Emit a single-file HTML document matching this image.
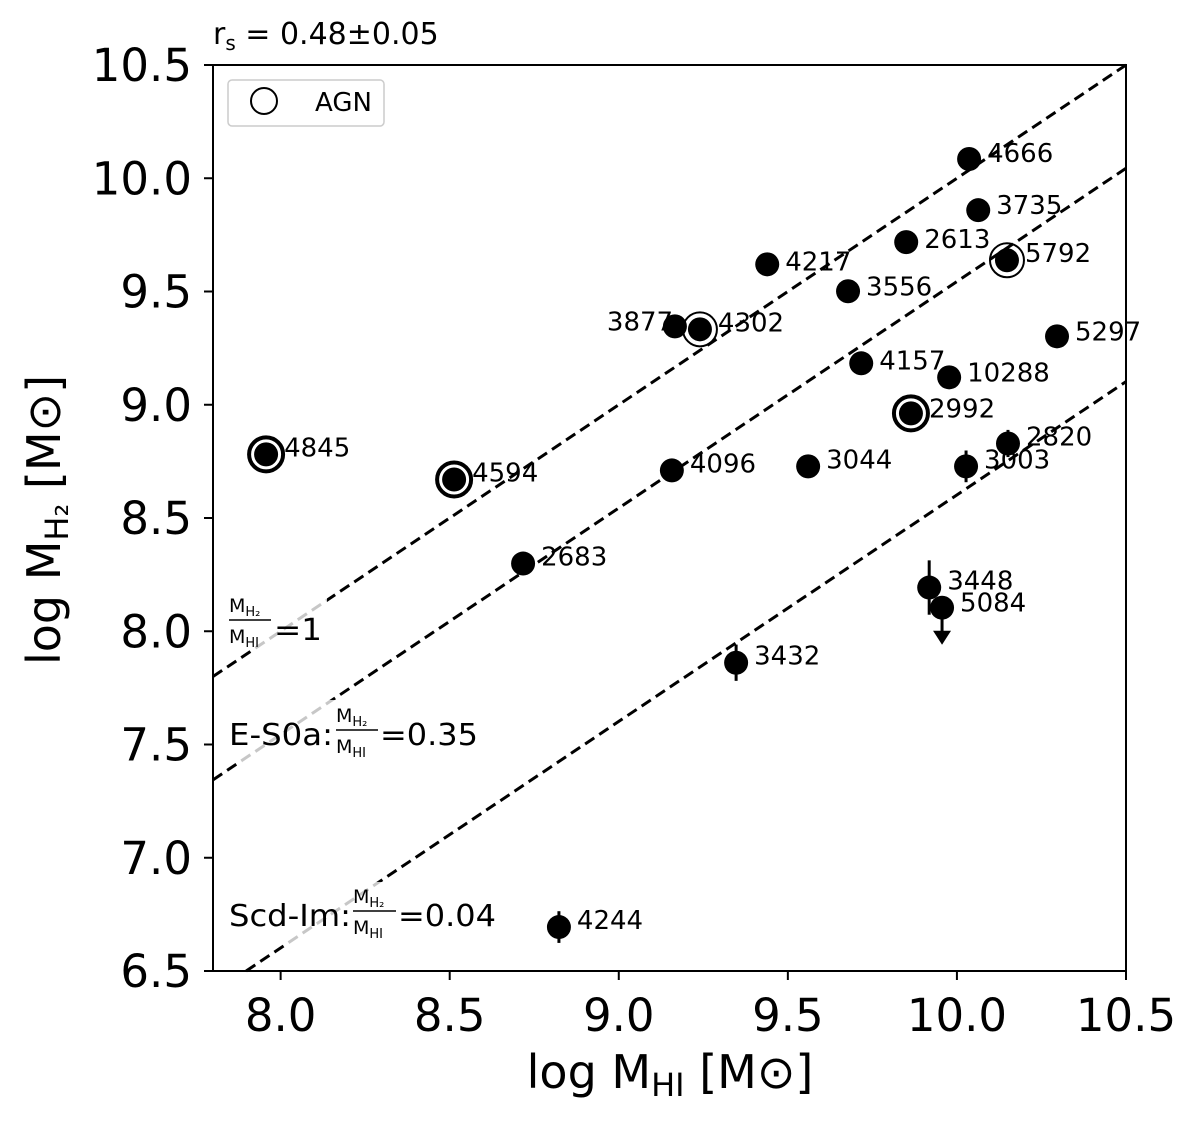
<!DOCTYPE html>
<html><head><meta charset="utf-8"><style>
body{margin:0;background:#fff}
svg text{font-family:"DejaVu Sans","Liberation Sans",sans-serif;fill:#000}
</style></head><body>
<svg id="chart" width="1200" height="1118" xmlns="http://www.w3.org/2000/svg">
<g id="lines"></g>
<g id="labelboxes">
  <rect x="215" y="588" width="112" height="62" fill="#fff" opacity="0.78"/>
  <rect x="215" y="700" width="268" height="62" fill="#fff" opacity="0.78"/>
  <rect x="215" y="882" width="285" height="62" fill="#fff" opacity="0.78"/>
  <text x="229" y="612" font-size="19">M<tspan font-size="13" dy="4">H₂</tspan></text>
  <line x1="229" y1="620" x2="271" y2="620" stroke="#000" stroke-width="1.5"/>
  <text x="229" y="643" font-size="19">M<tspan font-size="13" dy="4">HI</tspan></text>
  <text x="274" y="640" font-size="30" textLength="48" lengthAdjust="spacingAndGlyphs">=1</text>
  <text x="229" y="745" font-size="30" textLength="104" lengthAdjust="spacingAndGlyphs">E-S0a:</text>
  <text x="336" y="722" font-size="19">M<tspan font-size="13" dy="4">H₂</tspan></text>
  <line x1="336" y1="730" x2="378" y2="730" stroke="#000" stroke-width="1.5"/>
  <text x="336" y="753" font-size="19">M<tspan font-size="13" dy="4">HI</tspan></text>
  <text x="380" y="745" font-size="30" textLength="98" lengthAdjust="spacingAndGlyphs">=0.35</text>
  <text x="229" y="926" font-size="30" textLength="122" lengthAdjust="spacingAndGlyphs">Scd-Im:</text>
  <text x="353" y="903" font-size="19">M<tspan font-size="13" dy="4">H₂</tspan></text>
  <line x1="353" y1="911" x2="396" y2="911" stroke="#000" stroke-width="1.5"/>
  <text x="353" y="934" font-size="19">M<tspan font-size="13" dy="4">HI</tspan></text>
  <text x="398" y="926" font-size="30" textLength="98" lengthAdjust="spacingAndGlyphs">=0.04</text>
</g>
<g id="marks"></g>
<g id="axes"></g>
<rect x="228" y="80" width="156" height="46" rx="4" fill="#fff" stroke="#ccc" stroke-width="1.5"/>
<circle cx="264" cy="101" r="13" fill="none" stroke="#000" stroke-width="2"/>
<text x="315" y="111" font-size="26">AGN</text>
<text x="213" y="44" font-size="30">r<tspan font-size="20" dy="6">s</tspan><tspan dy="-6"> = 0.48±0.05</tspan></text>
<text x="670" y="1088" font-size="46" text-anchor="middle">log M<tspan font-size="32" dy="8">HI</tspan><tspan dy="-8"> [M⊙]</tspan></text>
<text transform="translate(60,520) rotate(-90)" font-size="46" text-anchor="middle">log M<tspan font-size="32" dy="8">H₂</tspan><tspan dy="-8"> [M⊙]</tspan></text>
</svg>
<script>
const names=["4666","3735","2613","5792","4217","3556","3877","4302","5297","4157","10288","2992","4845","4594","4096","3044","3003","2820","2683","3448","5084","3432","4244"];
const logHI=[10.036,10.063,9.85,10.148,9.439,9.678,9.166,9.24,10.296,9.717,9.977,9.864,7.957,8.513,9.157,9.56,10.027,10.151,8.717,9.918,9.956,9.347,8.823];
const logH2=[10.085,9.859,9.718,9.638,9.62,9.501,9.346,9.333,9.302,9.183,9.121,8.962,8.781,8.67,8.71,8.728,8.728,8.829,8.299,8.193,8.104,7.861,6.694];
const errH2=[0,0,0,0,0,0,0,0,0,0,0,0.04,0,0,0,0,0.07,0.06,0,0.12,0,0.08,0.07];
const agn=[0,0,0,1,0,0,0,1,0,0,0,2,2,2,0,0,0,0,0,0,0,0,0];
const upperLimit=[0,0,0,0,0,0,0,0,0,0,0,0,0,0,0,0,0,0,0,0,1,0,0];
const ratios=[0,-0.456,-1.398];
const xTicks=[8.0,8.5,9.0,9.5,10.0,10.5];
const yTicks=[6.5,7.0,7.5,8.0,8.5,9.0,9.5,10.0,10.5];
const labelDx=[18,18,18,18,18,18,-68,18,18,18,18,18,18,18,18,18,18,18,18,18,18,18,18];
const labelDy=[-7,-6,-4,-8,-4,-6,-6,-8,-6,-4,-6,-6,-8,-8,-8,-8,-8,-8,-8,-8,-6,-8,-8];
const X0=213,X1=1126,Y0=65,Y1=971,xmin=7.8,xmax=10.5,ymin=6.5,ymax=10.5;
const sx=v=>X0+(v-xmin)/(xmax-xmin)*(X1-X0);
const sy=v=>Y1-(v-ymin)/(ymax-ymin)*(Y1-Y0);
const NS="http://www.w3.org/2000/svg";
function mk(t,a,p){const e=document.createElementNS(NS,t);for(const k in a)e.setAttribute(k,a[k]);p.appendChild(e);return e;}
const gl=document.getElementById('lines');
ratios.forEach((r,i)=>{
  let xa=Math.max(xmin,ymin-r), xb=Math.min(xmax,ymax-r);
  const l=mk('line',{x1:sx(xa),y1:sy(xa+r),x2:sx(xb),y2:sy(xb+r),stroke:'#000','stroke-width':3,'stroke-dasharray':'11,6'},gl);
  
  
});
const gm=document.getElementById('marks');
names.forEach((n,i)=>{
  const cx=sx(logHI[i]),cy=sy(logH2[i]);
  const g=mk('g',{},gm);
  
  
  if(errH2[i]>0) mk('line',{x1:cx,x2:cx,y1:sy(logH2[i]+errH2[i]),y2:sy(logH2[i]-errH2[i]),stroke:'#000','stroke-width':3},g);
  if(upperLimit[i]){const ye=cy+33;mk('line',{x1:cx,x2:cx,y1:cy,y2:ye-8,stroke:'#000','stroke-width':3},g);mk('polygon',{points:`${cx-9},${ye-10} ${cx+9},${ye-10} ${cx},${ye+4}`,fill:'#000'},g);}
  mk('circle',{cx:cx,cy:cy,r:12,fill:'#000'},g);
  if(agn[i]==1) mk('circle',{cx:cx,cy:cy,r:17,fill:'none',stroke:'#000','stroke-width':2},g);
  if(agn[i]==2) mk('circle',{cx:cx,cy:cy,r:17,fill:'none',stroke:'#000','stroke-width':4},g);
  const t=mk('text',{x:cx+labelDx[i],y:cy+labelDy[i]+10,'font-size':26},g);
  t.textContent=n;
  
  
});
const ga=document.getElementById('axes');
mk('rect',{x:X0,y:Y0,width:X1-X0,height:Y1-Y0,fill:'none',stroke:'#000','stroke-width':2},ga);
xTicks.forEach(v=>{const x=sx(v);mk('line',{x1:x,x2:x,y1:Y1,y2:Y1+9,stroke:'#000','stroke-width':2},ga);
  const t=mk('text',{x:x,y:Y1+60,'font-size':45,'text-anchor':'middle'},ga);t.textContent=v.toFixed(1);
  
  });
yTicks.forEach(v=>{const y=sy(v);mk('line',{x1:X0-9,x2:X0,y1:y,y2:y,stroke:'#000','stroke-width':2},ga);
  const t=mk('text',{x:X0-21,y:y+16,'font-size':45,'text-anchor':'end'},ga);t.textContent=v.toFixed(1);
  
  });
</script>
</body></html>
